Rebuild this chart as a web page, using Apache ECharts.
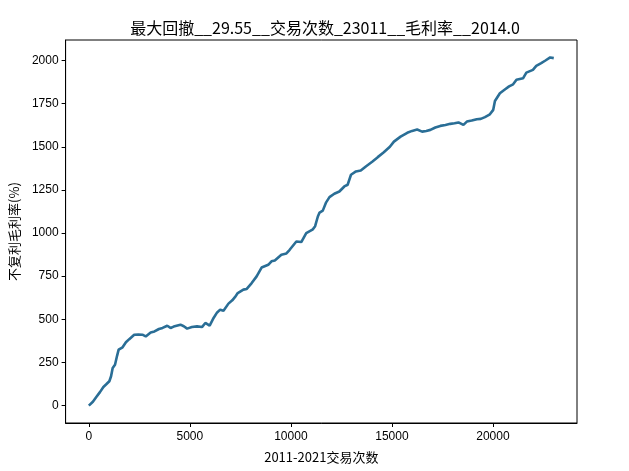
<!DOCTYPE html>
<html>
<head>
<meta charset="utf-8">
<script src="https://cdn.jsdelivr.net/npm/echarts@6/dist/echarts.min.js"></script>
<style>
html,body{margin:0;padding:0;background:#fff;}
#c{width:629px;height:471px;}
</style>
</head>
<body>
<div id="c"></div>
<script>
const chartTitle = '最大回撤__29.55__交易次数_23011__毛利率__2014.0';
const xAxisName = '2011-2021交易次数';
const yAxisName = '不复利毛利率(%)';
const xTicks = [0, 5000, 10000, 15000, 20000];
const yTicks = [0, 250, 500, 750, 1000, 1250, 1500, 1750, 2000];
const tradeIdx = [0,200,360,550,720,850,1015,1100,1180,1295,1400,1475,1670,1835,2000,2245,2450,2650,2815,3060,3250,3470,3650,3880,4045,4200,4535,4700,4865,5100,5356,5600,5765,5850,5980,6175,6350,6500,6665,6910,7100,7240,7370,7650,7815,8060,8305,8550,8880,9040,9205,9530,9780,9940,10025,10270,10515,10760,11090,11200,11335,11420,11580,11660,11745,11910,12150,12400,12645,12810,12975,13220,13460,13710,14040,14300,14600,14900,15100,15430,15760,16000,16250,16495,16700,16905,17150,17395,17650,17890,18100,18295,18540,18710,18950,19200,19400,19605,19850,20015,20100,20345,20590,20800,21000,21165,21490,21655,21980,22145,22390,22600,22835,23011];
const profit = [0,22,48,78,108,122,141,170,218,237,290,324,338,367,385,411,412,411,401,424,430,444,450,463,450,458,469,460,446,455,459,455,479,478,463,508,540,556,550,591,610,630,652,672,676,710,749,800,816,836,841,874,882,903,913,951,948,1000,1022,1040,1096,1119,1130,1139,1178,1208,1228,1241,1270,1280,1338,1357,1362,1386,1415,1440,1468,1500,1530,1559,1581,1592,1600,1588,1592,1598,1612,1621,1626,1633,1636,1641,1627,1646,1652,1660,1662,1672,1688,1714,1765,1810,1832,1850,1862,1888,1897,1930,1946,1969,1985,2000,2018,2014];

const seriesData = tradeIdx.map((x, i) => [x, profit[i]]);
const xSpan = tradeIdx[tradeIdx.length - 1] - tradeIdx[0];
const yMinV = Math.min(...profit), yMaxV = Math.max(...profit);
const ySpan = yMaxV - yMinV;

const chart = echarts.init(document.getElementById('c'), null, {renderer: 'canvas'});
const tickFont = {fontFamily: 'Liberation Sans, Arial, sans-serif', fontSize: 12, color: '#000'};
chart.setOption({
  animation: false,
  backgroundColor: '#fff',
  title: {
    text: chartTitle,
    left: 320, top: 15, textAlign: 'center',
    textStyle: {fontFamily: 'Noto Sans CJK SC', fontSize: 16, fontWeight: 'normal', color: '#000'}
  },
  grid: {left: 63, right: 52, top: 40, bottom: 48, show: true, borderColor: '#000', borderWidth: 1, backgroundColor: 'transparent'},
  xAxis: {
    type: 'value',
    min: tradeIdx[0] - xSpan * 0.05,
    max: tradeIdx[tradeIdx.length - 1] + xSpan * 0.05,
    name: xAxisName, nameLocation: 'middle', nameGap: 28,
    nameTextStyle: {fontFamily: 'Noto Sans CJK SC', fontSize: 13, color: '#000'},
    splitLine: {show: false},
    axisLine: {show: true, onZero: false, lineStyle: {color: '#000', width: 1}},
    axisTick: {show: true, inside: false, length: 4, customValues: xTicks, lineStyle: {color: '#000'}},
    axisLabel: Object.assign({customValues: xTicks, margin: 8, formatter: v => String(v)}, tickFont)
  },
  yAxis: {
    type: 'value',
    min: yMinV - ySpan * 0.05,
    max: yMaxV + ySpan * 0.05,
    name: yAxisName, nameLocation: 'middle', nameGap: 42, nameRotate: 90,
    nameTextStyle: {fontFamily: 'Noto Sans CJK SC', fontSize: 13, color: '#000'},
    splitLine: {show: false},
    axisLine: {show: true, onZero: false, lineStyle: {color: '#000', width: 1}},
    axisTick: {show: true, inside: false, length: 4, customValues: yTicks, lineStyle: {color: '#000'}},
    axisLabel: Object.assign({customValues: yTicks, margin: 7, formatter: v => String(v)}, tickFont)
  },
  series: [{
    type: 'line',
    data: seriesData,
    showSymbol: false,
    symbol: 'none',
    lineStyle: {color: '#2a6e96', width: 2.6},
    z: 3
  }]
});
</script>
</body>
</html>
